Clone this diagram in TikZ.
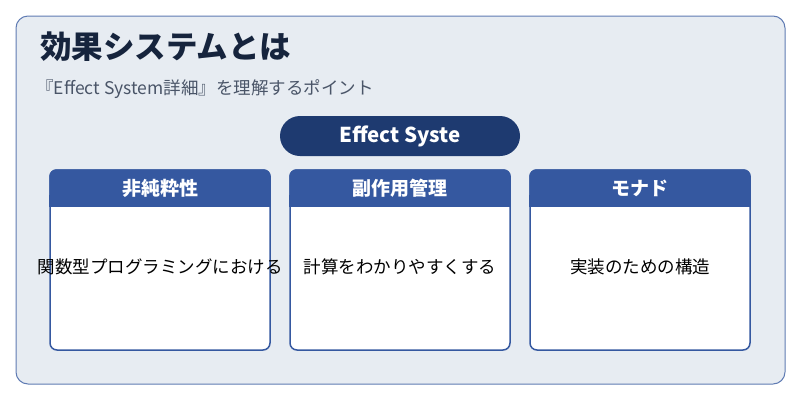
\documentclass[tikz,border=0pt]{standalone}
\usepackage{fontspec}
\setmainfont{Noto Sans CJK JP}
\definecolor{bgc}{HTML}{E7ECF2}
\definecolor{frame}{HTML}{5F7BB3}
\definecolor{navy}{HTML}{1E3A70}
\definecolor{hdr}{HTML}{3558A0}
\definecolor{ttl}{HTML}{16243D}
\definecolor{sub}{HTML}{4A5568}
\tikzset{
  card/.style={draw=hdr,line width=1.5pt,fill=white,rounded corners=7pt},
  hdrtxt/.style={text=white,font=\bfseries\fontsize{19}{22}\selectfont},
  bodytxt/.style={text=black,font=\fontsize{17.5}{20}\selectfont},
}
\begin{document}
\begin{tikzpicture}[x=1pt,y=-1pt]
\useasboundingbox (0,0) rectangle (800,400);
\draw[fill=bgc,draw=frame,line width=1pt,rounded corners=12pt] (16,16) rectangle (785,384);
\node[anchor=west,text=ttl,font=\bfseries\fontsize{31.5}{36}\selectfont,inner sep=0pt] (title) at (40,47) {効果システムとは};
\node[anchor=west,text=sub,font=\fontsize{17.5}{20}\selectfont,inner sep=0pt] (subt) at (36,89) {『Effect System詳細』を理解するポイント};
\node[fill=navy,rounded corners=20pt,minimum width=240pt,minimum height=40pt,text=white,font=\bfseries\fontsize{20.5}{24}\selectfont] (pill) at (400,136) {Effect Syste};
\foreach \x/\h/\b/\n in {50/非純粋性/関数型プログラミングにおける/a,290/副作用管理/計算をわかりやすくする/b,530/モナド/実装のための構造/c}{
  \draw[card] (\x,170) rectangle ++(220,180);
  \fill[hdr,rounded corners=7pt] (\x-0.75,169.25) rectangle ++(221.5,37);
  \fill[hdr] (\x-0.75,195) rectangle ++(221.5,11.5);
  \node[hdrtxt] (h\n) at (\x+110,188) {\h};
  \node[bodytxt] (b\n) at (\x+110,267) {\b};
}
\end{tikzpicture}
\end{document}
